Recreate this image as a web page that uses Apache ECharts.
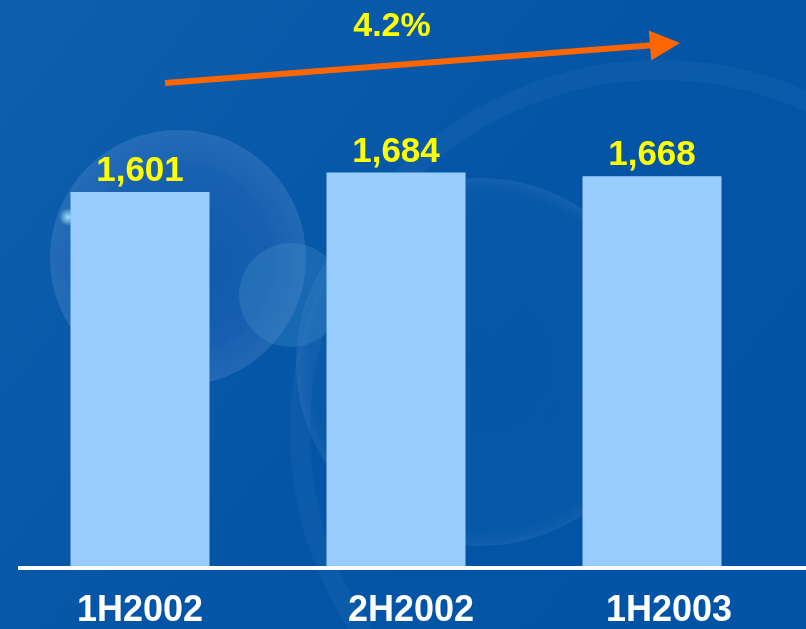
<!DOCTYPE html>
<html>
<head>
<meta charset="utf-8">
<title>Half-year figures</title>
<script src="https://cdn.jsdelivr.net/npm/echarts@6/dist/echarts.min.js"></script>
<style>
  html, body { margin: 0; padding: 0; background: #0455A6; }
  #chart { width: 806px; height: 629px; }
</style>
</head>
<body>
<div id="chart"></div>
<script>
// Half-year periods and their values
const categories = ['1H2002', '2H2002', '1H2003'];
const values = [1601, 1684, 1668];
const growthLabel = '4.2%';

const FONT = '"Liberation Sans", Arial, sans-serif';
const chart = echarts.init(document.getElementById('chart'), null, { renderer: 'canvas' });

// soft lens-flare decoration in the backdrop
const flares = [
  { type: 'circle', shape: { cx: 178, cy: 258, r: 128 }, style: {
      fill: new echarts.graphic.RadialGradient(0.5, 0.5, 0.5, [
        { offset: 0, color: 'rgba(120,150,220,0.08)' },
        { offset: 0.7, color: 'rgba(140,160,230,0.13)' },
        { offset: 1, color: 'rgba(160,180,240,0.18)' }
      ]) } },
  { type: 'circle', shape: { cx: 178, cy: 258, r: 98 }, style: { fill: 'rgba(10,70,160,0.08)' } },
  { type: 'circle', shape: { cx: 291, cy: 295, r: 52 }, style: { fill: 'rgba(90,170,220,0.22)' } },
  { type: 'circle', shape: { cx: 68, cy: 217, r: 9 }, style: {
      fill: new echarts.graphic.RadialGradient(0.5, 0.5, 0.5, [
        { offset: 0, color: 'rgba(170,240,255,0.9)' },
        { offset: 1, color: 'rgba(170,240,255,0)' }
      ]) } },
  { type: 'circle', shape: { cx: 480, cy: 362, r: 184 }, style: {
      fill: new echarts.graphic.RadialGradient(0.5, 0.5, 0.5, [
        { offset: 0, color: 'rgba(20,110,180,0.08)' },
        { offset: 0.92, color: 'rgba(40,120,190,0.10)' },
        { offset: 1, color: 'rgba(120,170,230,0.14)' }
      ]) } },
  { type: 'circle', shape: { cx: 660, cy: 430, r: 360 }, style: {
      fill: 'none', stroke: 'rgba(120,170,235,0.08)', lineWidth: 20 } }
].map(function (g) { return Object.assign({ silent: true, z: -10 }, g); });

const catStyle = { color: '#FFFFFF', fontFamily: FONT, fontWeight: 'bold', fontSize: 36 };

chart.setOption({
  backgroundColor: new echarts.graphic.LinearGradient(0, 0, 1, 1, [
    { offset: 0, color: '#0E60AE' },
    { offset: 0.5, color: '#0455A6' },
    { offset: 1, color: '#0053A5' }
  ]),
  animation: false,
  grid: { left: 12, right: 26, top: 103, bottom: 59, containLabel: false },
  xAxis: {
    type: 'category',
    data: categories,
    axisLine: { show: false },
    axisTick: { show: false },
    axisLabel: {
      interval: 0,
      hideOverlap: false,
      margin: 25,
      color: '#FFFFFF',
      fontFamily: FONT,
      fontWeight: 'bold',
      fontSize: 36,
      formatter: function (v, i) { return '{c' + i + '|' + v + '}'; },
      rich: {
        c0: Object.assign({ padding: [0, 0, 0, 0] }, catStyle),
        c1: Object.assign({ padding: [0, 0, 0, 30] }, catStyle),
        c2: Object.assign({ padding: [0, 0, 0, 34] }, catStyle)
      }
    }
  },
  yAxis: {
    type: 'value',
    min: 0,
    max: 1980,
    show: false,
    splitLine: { show: false }
  },
  series: [{
    type: 'bar',
    data: values,
    barWidth: 139,
    itemStyle: { color: '#99CCFF' },
    z: 5,
    label: {
      show: true,
      position: 'top',
      distance: 3,
      color: '#FFFF00',
      fontFamily: FONT,
      fontWeight: 'bold',
      fontSize: 35,
      formatter: function (p) { return p.value.toLocaleString('en-US'); }
    }
  }]
});

// baseline and growth arrow, placed once the axes are laid out
const y0 = chart.convertToPixel({ yAxisIndex: 0 }, 0);
chart.setOption({
  graphic: flares.concat([
    { type: 'line', silent: true, z: 20,
      shape: { x1: 18, y1: y0, x2: 806, y2: y0 },
      style: { stroke: '#FFFFFF', lineWidth: 4 } },
    { type: 'line', silent: true, z: 20,
      shape: { x1: 165, y1: 83, x2: 655, y2: 45 },
      style: { stroke: '#FF6600', lineWidth: 6 } },
    { type: 'polygon', silent: true, z: 20,
      shape: { points: [[680, 43], [648.8, 30.5], [651.2, 60.5]] },
      style: { fill: '#FF6600' } },
    { type: 'text', silent: true, z: 20,
      x: 392, y: 27,
      style: { text: growthLabel, fill: '#FFFF00', font: 'bold 34px ' + FONT,
               align: 'center', verticalAlign: 'middle' } }
  ])
});
</script>
</body>
</html>
